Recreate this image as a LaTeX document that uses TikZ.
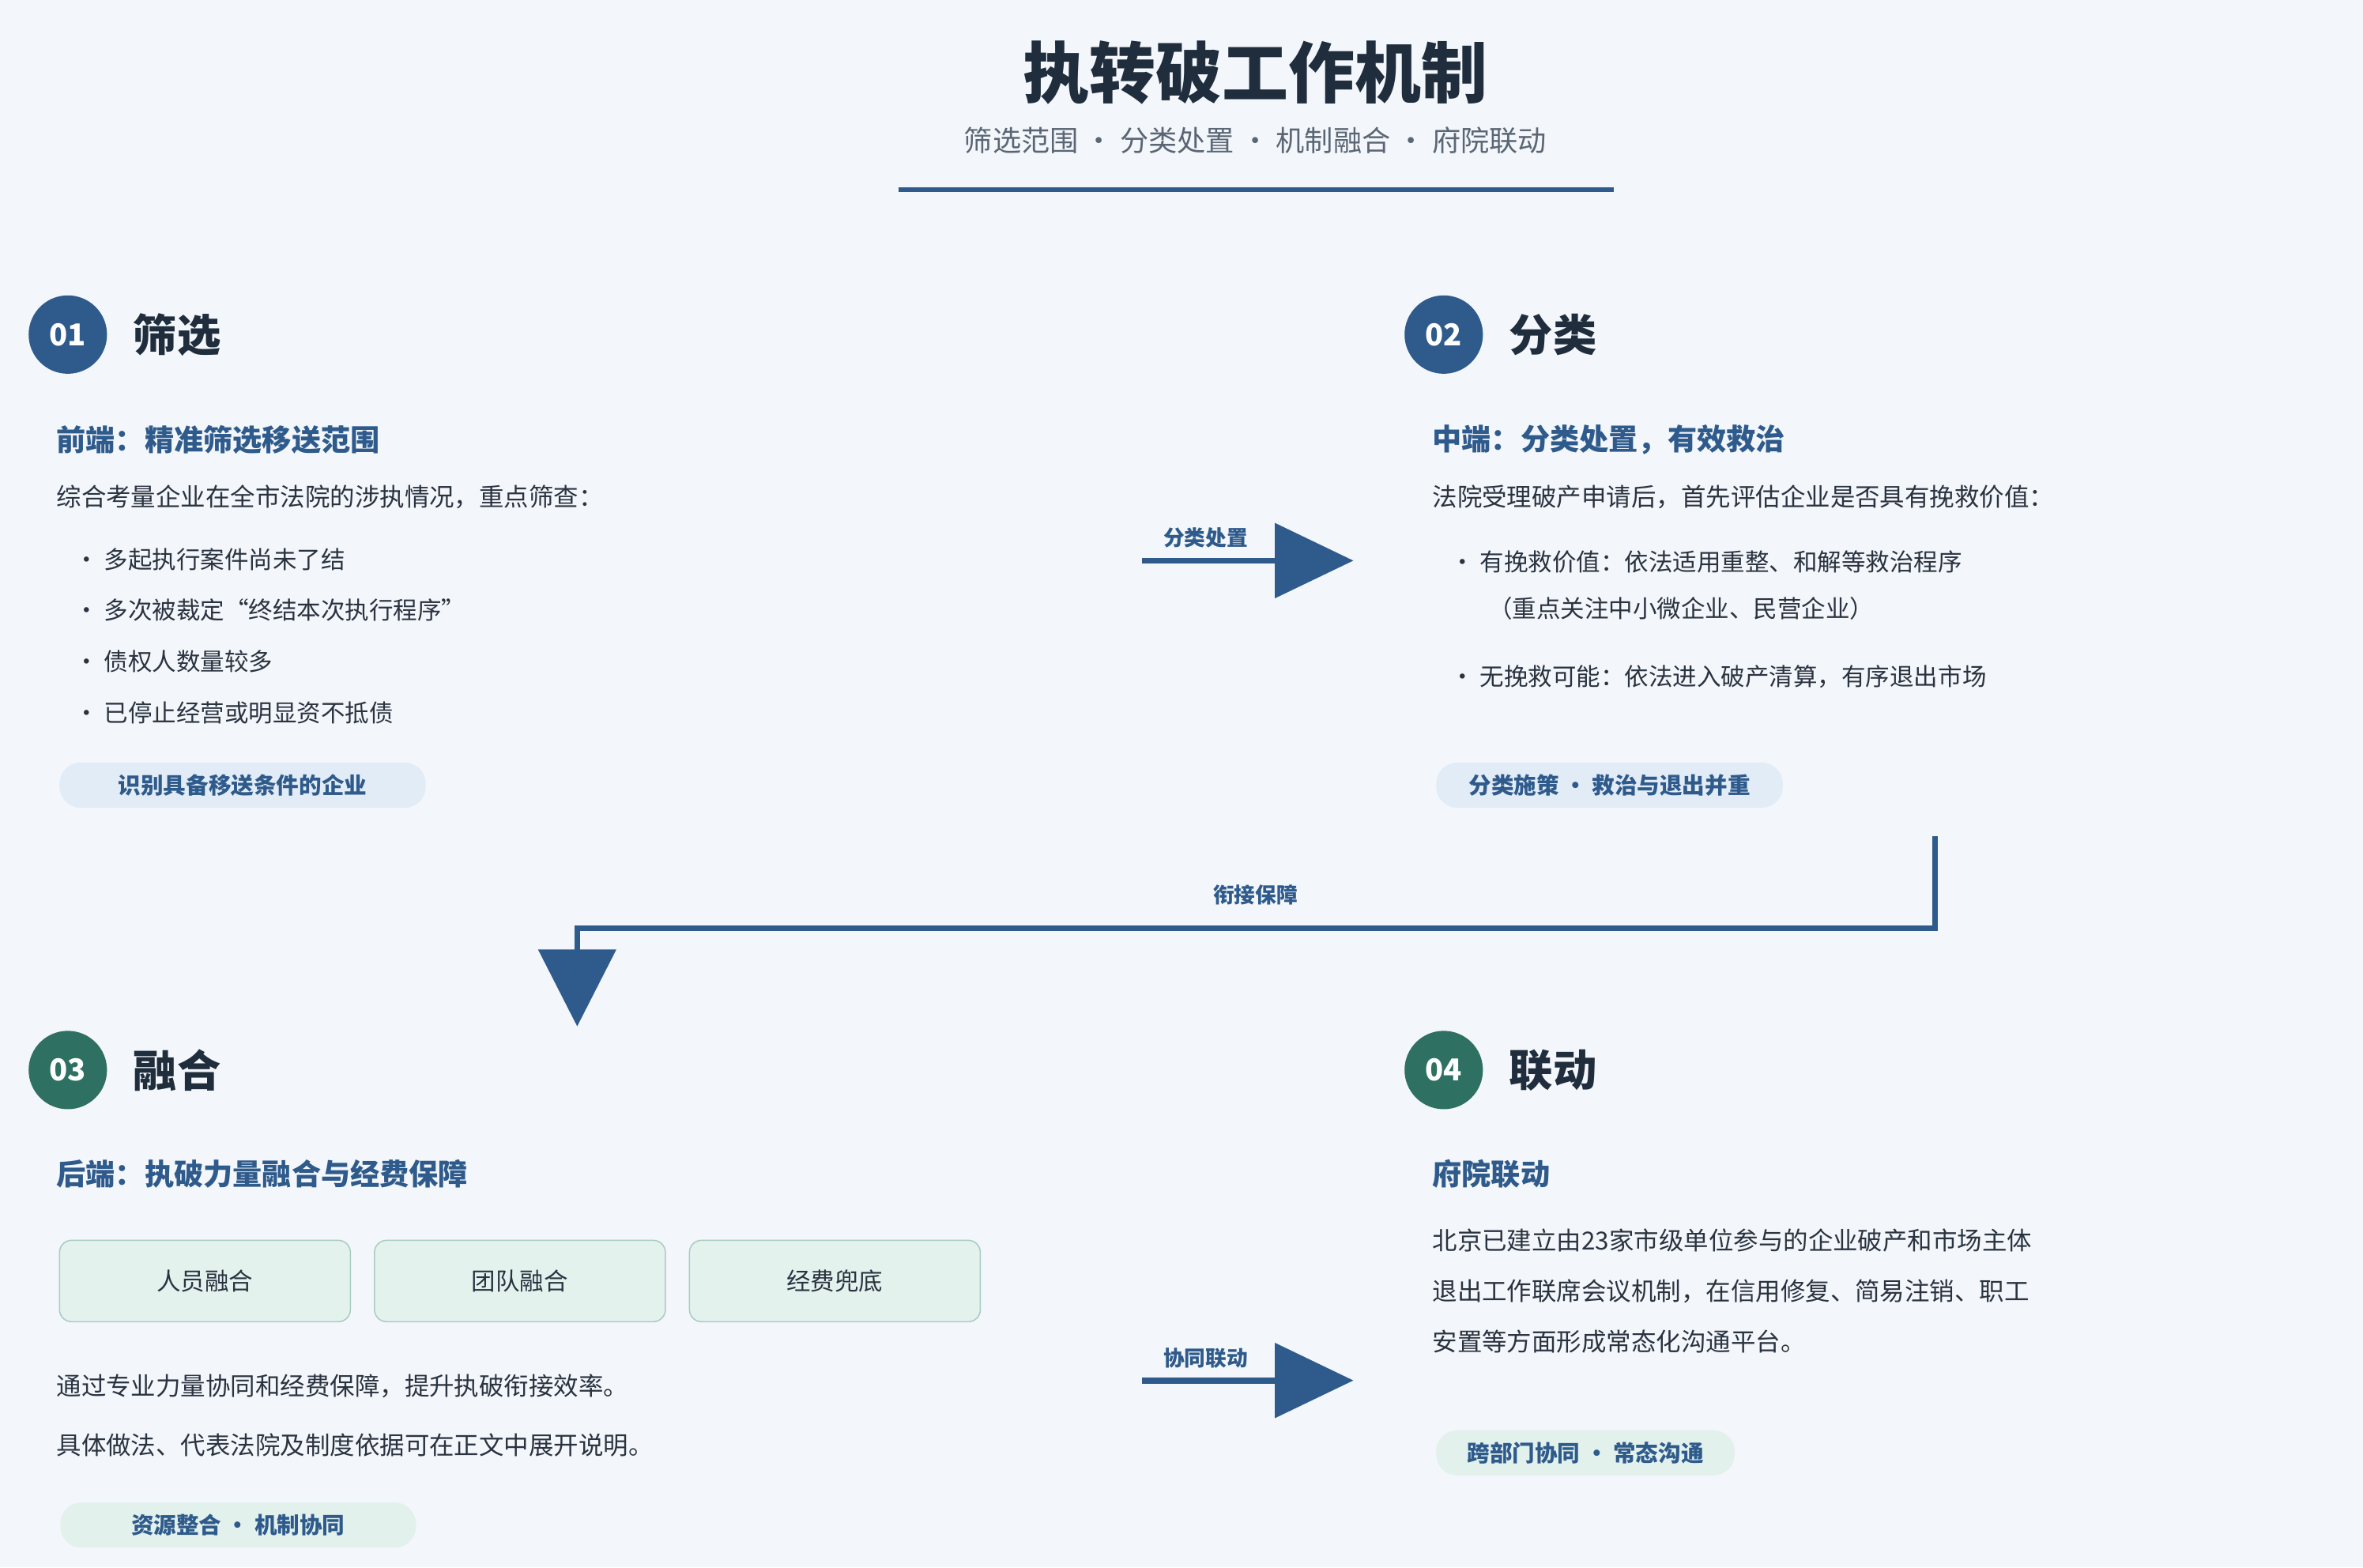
\documentclass[tikz,border=0pt]{standalone}
\usepackage{fontspec}
\setmainfont{Noto Sans CJK SC}
\usetikzlibrary{positioning}
\definecolor{bg}{HTML}{F3F6FA}
\definecolor{navy}{HTML}{1F2D3D}
\definecolor{mblue}{HTML}{2F5B8C}
\definecolor{mgreen}{HTML}{2E7062}
\definecolor{txt}{HTML}{2A3340}
\definecolor{gray1}{HTML}{5A6675}
\definecolor{pillb}{HTML}{E2ECF7}
\definecolor{pillg}{HTML}{E3F1EC}
\definecolor{boxg}{HTML}{E4F2EE}
\definecolor{boxgb}{HTML}{A9CCC2}
\tikzset{
 num/.style={circle,minimum size=52pt,inner sep=0pt,text=white,font=\fontsize{20}{20}\selectfont\bfseries},
 head/.style={anchor=west,text=navy,font=\fontsize{29}{29}\selectfont\bfseries},
 sub/.style={anchor=west,text=mblue,font=\fontsize{19.5}{19.5}\selectfont\bfseries},
 body/.style={anchor=west,text=txt,font=\fontsize{16.5}{16.5}\selectfont},
 bul/.style={anchor=west,text=txt,font=\fontsize{16}{16}\selectfont},
 pill/.style={rounded corners=14pt,minimum height=30pt,text=mblue,font=\fontsize{15}{15}\selectfont\bfseries,inner sep=0pt},
 lbl/.style={text=mblue,font=\fontsize{14}{14}\selectfont\bfseries},
 gbox/.style={draw=boxgb,fill=boxg,rounded corners=8pt,minimum width=193pt,minimum height=54pt,text=txt,font=\fontsize{16}{16}\selectfont,line width=0.8pt},
 shaft/.style={draw=mblue,line width=4pt},
 tri/.style={fill=mblue}
}
\begin{document}
\begin{tikzpicture}[x=1pt,y=-1pt]
\fill[bg] (0,0) rectangle (1568,1040);
\useasboundingbox (0,0) rectangle (1568,1040);
\node[text=navy,font=\fontsize{44}{44}\selectfont\bfseries] (title) at (833,48) {执转破工作机制};
\node[text=gray1,font=\fontsize{19}{19}\selectfont] (subt) at (833,93) {筛选范围 · 分类处置 · 机制融合 · 府院联动};
\draw[mblue,line width=3pt] (596,126) -- (1071,126);
% 01
\node[num,fill=mblue] (n1) at (45,222) {01};
\node[head] (h1) at (85,222) {筛选};
\node[sub] (s1) at (34,292) {前端：精准筛选移送范围};
\node[body] (b1) at (34,330) {综合考量企业在全市法院的涉执情况，重点筛查：};
\node[bul] (b1a) at (46,371) {• 多起执行案件尚未了结};
\node[bul] (b1b) at (46,405) {• 多次被裁定“终结本次执行程序”};
\node[bul] (b1c) at (46,439) {• 债权人数量较多};
\node[bul] (b1d) at (46,473) {• 已停止经营或明显资不抵债};
\node[pill,fill=pillb,minimum width=243pt] (p1) at (161,521) {识别具备移送条件的企业};
% 02
\node[num,fill=mblue] (n2) at (958,222) {02};
\node[head] (h2) at (998,222) {分类};
\node[sub] (s2) at (947,292) {中端：分类处置，有效救治};
\node[body] (b2) at (947,330) {法院受理破产申请后，首先评估企业是否具有挽救价值：};
\node[bul] (b2a) at (959,373) {• 有挽救价值：依法适用重整、和解等救治程序};
\node[bul] (b2b) at (984,404) {（重点关注中小微企业、民营企业）};
\node[bul] (b2c) at (959,449) {• 无挽救可能：依法进入破产清算，有序退出市场};
\node[pill,fill=pillb,minimum width=230pt] (p2) at (1068,521) {分类施策 · 救治与退出并重};
% arrow 1
\coordinate (a1s) at (758,372);
\coordinate (a1e) at (850,372);
\draw[shaft] (a1s) -- (a1e);
\fill[tri] (846,347) -- (898,372) -- (846,397) -- cycle;
\node[lbl] (l1) at (800,357) {分类处置};
% connector
\coordinate (c1) at (1284,555);
\coordinate (c2) at (1284,616);
\coordinate (c3) at (383,616);
\coordinate (c4) at (383,632);
\draw[shaft,line width=3.5pt] (c1) -- (c2) -- (c3) -- (c4);
\fill[tri] (357,630) -- (409,630) -- (383,681) -- cycle;
\node[lbl] (l2) at (833,594) {衔接保障};
% 03
\node[num,fill=mgreen] (n3) at (45,710) {03};
\node[head] (h3) at (85,710) {融合};
\node[sub] (s3) at (34,779) {后端：执破力量融合与经费保障};
\node[gbox] (g1) at (136,850) {人员融合};
\node[gbox] (g2) at (345,850) {团队融合};
\node[gbox] (g3) at (554,850) {经费兜底};
\node[body] (b3a) at (34,920) {通过专业力量协同和经费保障，提升执破衔接效率。};
\node[body] (b3b) at (34,959) {具体做法、代表法院及制度依据可在正文中展开说明。};
\node[pill,fill=pillg,minimum width=236pt] (p3) at (158,1012) {资源整合 · 机制协同};
% arrow 2
\coordinate (a2s) at (758,916);
\coordinate (a2e) at (850,916);
\draw[shaft] (a2s) -- (a2e);
\fill[tri] (846,891) -- (898,916) -- (846,941) -- cycle;
\node[lbl] (l3) at (800,901) {协同联动};
% 04
\node[num,fill=mgreen] (n4) at (958,710) {04};
\node[head] (h4) at (998,710) {联动};
\node[sub] (s4) at (947,779) {府院联动};
\node[body] (b4a) at (947,823) {北京已建立由23家市级单位参与的企业破产和市场主体};
\node[body] (b4b) at (947,857) {退出工作联席会议机制，在信用修复、简易注销、职工};
\node[body] (b4c) at (947,890) {安置等方面形成常态化沟通平台。};
\node[pill,fill=pillg,minimum width=198pt] (p4) at (1052,964) {跨部门协同 · 常态沟通};
\end{tikzpicture}
\end{document}
